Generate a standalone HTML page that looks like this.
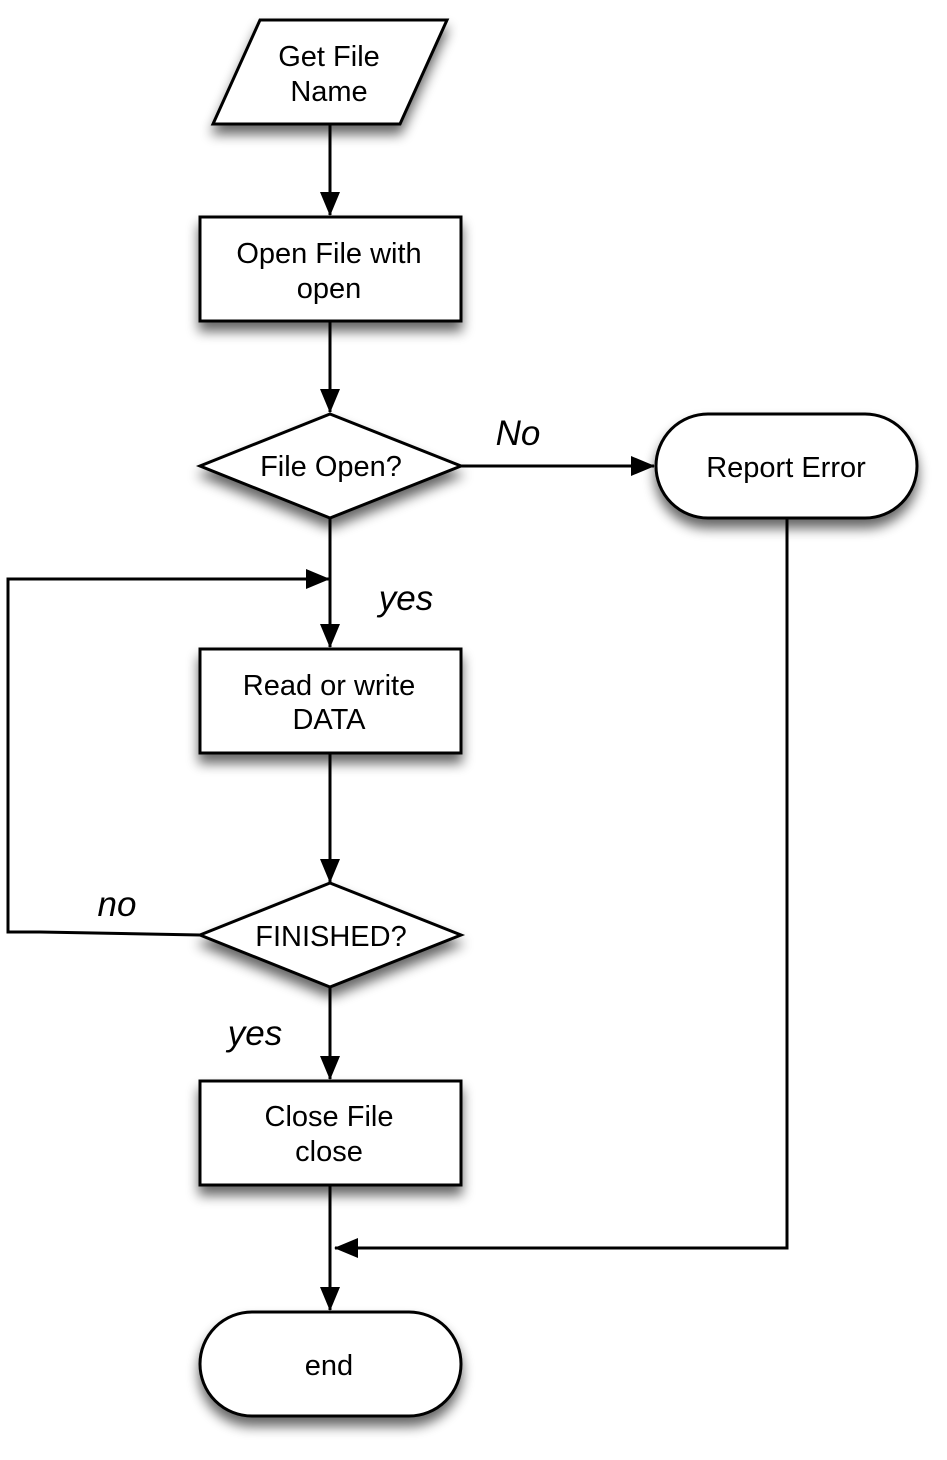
<!DOCTYPE html>
<html><head><meta charset="utf-8"><style>
html,body{margin:0;padding:0;background:#fff;}
svg{display:block;}
text{font-family:"Liberation Sans",sans-serif;font-size:29px;fill:#000;text-anchor:middle;}
.it{font-style:italic;font-size:35px;}
</style></head><body>
<svg width="947" height="1460" viewBox="0 0 947 1460" xmlns="http://www.w3.org/2000/svg">
<defs>
<filter id="sh" x="-20%" y="-20%" width="140%" height="160%">
<feGaussianBlur in="SourceAlpha" stdDeviation="6"/>
<feOffset dx="0" dy="9" result="b"/>
<feComponentTransfer><feFuncA type="linear" slope="0.6"/></feComponentTransfer>
<feMerge><feMergeNode/><feMergeNode in="SourceGraphic"/></feMerge>
</filter>
<marker id="ar" markerWidth="24" markerHeight="20" refX="23" refY="10" orient="auto" markerUnits="userSpaceOnUse">
<path d="M0,0 L24,10 L0,20 Z" fill="#000"/>
</marker>
</defs>
<g stroke="#000" stroke-width="3" fill="none">
<line x1="330" y1="124" x2="330" y2="215" marker-end="url(#ar)"/>
<line x1="330" y1="321" x2="330" y2="412" marker-end="url(#ar)"/>
<line x1="461" y1="466" x2="654" y2="466" marker-end="url(#ar)"/>
<line x1="330" y1="518" x2="330" y2="647" marker-end="url(#ar)"/>
<polyline points="200,935 40,932 8,932 8,579 329,579" marker-end="url(#ar)"/>
<line x1="330" y1="753" x2="330" y2="882" marker-end="url(#ar)"/>
<line x1="330" y1="987" x2="330" y2="1079" marker-end="url(#ar)"/>
<line x1="330" y1="1185" x2="330" y2="1310" marker-end="url(#ar)"/>
<polyline points="787,518 787,1248 335,1248" marker-end="url(#ar)"/>
</g>
<g stroke="#000" stroke-width="3" fill="#fff" filter="url(#sh)">
<polygon points="260,20 447,20 400,124 213,124"/>
<rect x="200" y="217" width="261" height="104"/>
<polygon points="330,414 461,466 330,518 200,466"/>
<rect x="656" y="414" width="261" height="104" rx="52" ry="52"/>
<rect x="200" y="649" width="261" height="104"/>
<polygon points="330,883 461,935 330,987 200,935"/>
<rect x="200" y="1081" width="261" height="104"/>
<rect x="200" y="1312" width="261" height="104" rx="52" ry="52"/>
</g>
<text x="329" y="66">Get File</text>
<text x="329" y="101">Name</text>
<text x="329" y="263">Open File with</text>
<text x="329" y="298">open</text>
<text x="331" y="476">File Open?</text>
<text x="786" y="477">Report Error</text>
<text x="329" y="695">Read or write</text>
<text x="329" y="729">DATA</text>
<text x="331" y="946">FINISHED?</text>
<text x="329" y="1126">Close File</text>
<text x="329" y="1161">close</text>
<text x="329" y="1375">end</text>
<text class="it" x="518" y="445">No</text>
<text class="it" x="406" y="610">yes</text>
<text class="it" x="117" y="916">no</text>
<text class="it" x="255" y="1045">yes</text>
</svg>
</body></html>
